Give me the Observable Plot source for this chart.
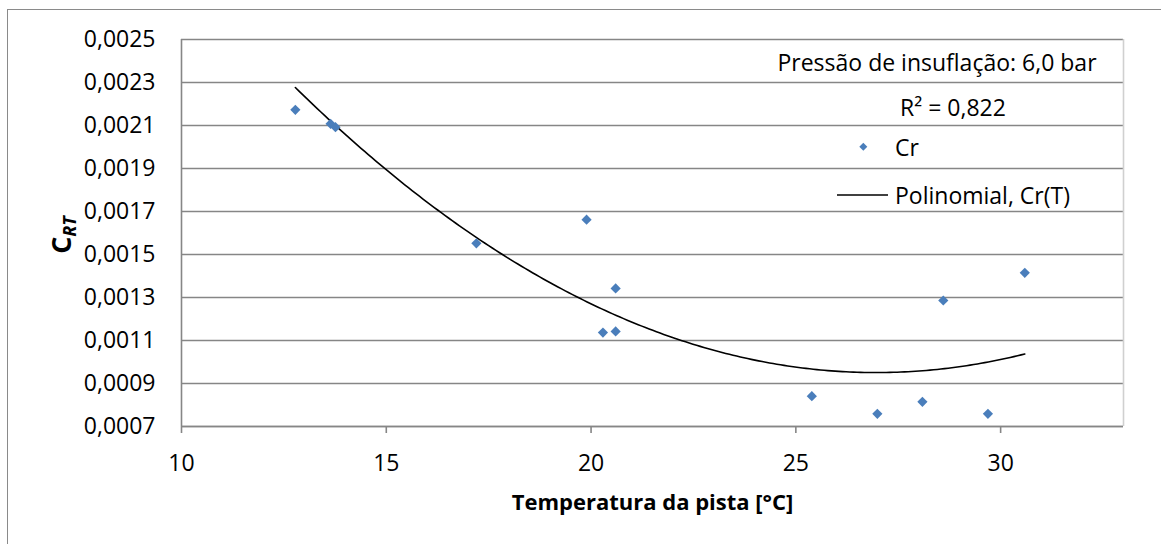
<!DOCTYPE html>
<html>
<head>
<meta charset="utf-8">
<script src="https://cdn.jsdelivr.net/npm/d3@7"></script>
<script src="https://cdn.jsdelivr.net/npm/@observablehq/plot@0.6"></script>
<style>
  html, body { margin: 0; padding: 0; background: #fff; overflow: hidden; }
  #wrap { position: relative; width: 1161px; height: 544px; font-family: "Open Sans", sans-serif; color: #000; }
  #frame { position: absolute; left: 7px; top: 9px; width: 1170px; height: 560px; border-left: 1.5px solid #8a8a8a; border-top: 1.5px solid #8a8a8a; box-sizing: border-box; pointer-events: none; }
  #chart { position: absolute; left: 0; top: 0; }
  .lbl { position: absolute; white-space: nowrap; font-size: 23px; line-height: 1; }
  #ylab { position: absolute; left: 62px; top: 235px; transform: translate(-50%, -50%) rotate(-90deg); font-size: 27px; font-weight: bold; white-space: nowrap; line-height: 1; }
  #ylab sub { font-size: 18px; font-style: italic; vertical-align: -5px; }
</style>
</head>
<body>
<div id="wrap">
  <div id="chart"></div>
  <div id="frame"></div>
  <div id="ylab">C<sub>RT</sub></div>
  <div class="lbl" id="pres" style="left:937px; top:62px; transform:translate(-50%,-50%);"></div>
  <div class="lbl" id="r2" style="left:953px; top:107px; transform:translate(-50%,-50%);"></div>
  <svg style="position:absolute; left:830px; top:135px;" width="70" height="70">
    <path d="M33.3,7.7 L37.3,11.7 L33.3,15.7 L29.3,11.7 Z" fill="#4a7ebb"></path>
    <line x1="7" x2="58" y1="60" y2="60" stroke="#000" stroke-width="1.5"></line>
  </svg>
  <div class="lbl" id="legCr" style="left:895px; top:147px; transform:translate(0,-50%);"></div>
  <div class="lbl" id="legPoly" style="left:895px; top:195px; transform:translate(0,-50%);"></div>
</div>
<script>
// Data
const temperature = [12.78, 13.64, 13.76, 17.2, 19.89, 20.29, 20.6, 20.6, 25.39, 26.99, 28.09, 28.6, 29.69, 30.59];
const crValues    = [0.002173, 0.002108, 0.002092, 0.001552, 0.001662, 0.001137, 0.001142, 0.001342, 0.000841, 0.000759, 0.000815, 0.001286, 0.000759, 0.001415];
// Order-2 polynomial trendline coefficients (c0 + c1*T + c2*T^2)
const trendCoef = [0.0057413, -0.0003553, 0.000006588];
const yTicks = [0.0007, 0.0009, 0.0011, 0.0013, 0.0015, 0.0017, 0.0019, 0.0021, 0.0023, 0.0025];
const xTicks = [10, 15, 20, 25, 30];
const xDomain = [10, 33];
const yDomain = [0.0007, 0.0025];
const seriesName = "Cr";
const trendName = "Polinomial, Cr(T)";
const annotation = "Pressão de insuflação: 6,0 bar";
const r2Text = "R² = 0,822";
const xTitle = "Temperatura da pista [°C]";

document.getElementById("pres").textContent = annotation;
document.getElementById("r2").textContent = r2Text;
document.getElementById("legCr").textContent = seriesName;
document.getElementById("legPoly").textContent = trendName;

const points = temperature.map((t, i) => ({t, cr: crValues[i]}));

const tMin = d3.min(temperature), tMax = d3.max(temperature);
const [c0, c1, c2] = trendCoef;
const trendFn = t => c0 + c1 * t + c2 * t * t;
// the trendline is drawn over the data's temperature range
const trendT = d3.range(0, 201).map(i => tMin + (tMax - tMin) * i / 200);

const fmt = d => d.toFixed(4).replace(".", ",");

const chart = Plot.plot({
  width: 1161,
  height: 544,
  marginLeft: 181,
  marginRight: 38,
  marginTop: 39,
  marginBottom: 118,
  style: { fontFamily: "Open Sans, sans-serif", fontSize: "22px", color: "#000", background: "transparent" },
  x: { domain: xDomain, ticks: xTicks, label: null },
  y: { domain: yDomain, ticks: yTicks, label: null },
  marks: [
    Plot.gridY(yTicks, { stroke: "#868686", strokeOpacity: 1, strokeWidth: 1.6 }),
    Plot.ruleX([xDomain[1]], { stroke: "#d0d0d0", strokeWidth: 1.6 }),
    Plot.ruleX([xDomain[0]], { stroke: "#868686", strokeWidth: 1.6 }),
    Plot.ruleY([yDomain[0]], { stroke: "#868686", strokeWidth: 1.6 }),
    Plot.axisX(xTicks, { tickSize: 7, tickPadding: 21, stroke: "#868686", strokeWidth: 1.6, fill: "#000", fontSize: 23, label: null }),
    Plot.axisX({ anchor: "bottom", ticks: [], label: xTitle, labelAnchor: "center", labelArrow: "none", labelOffset: 83, fontSize: 22, fontWeight: "bold" }),
    Plot.axisY(yTicks, { tickSize: 0, tickPadding: 26, tickFormat: fmt, fill: "#000", fontSize: 23, label: null, style: "letter-spacing:0.7px" }),
    Plot.line(trendT, { x: d => d, y: d => trendFn(d), stroke: "#000", strokeWidth: 1.6 }),
    Plot.dot(points, { x: "t", y: "cr", symbol: "diamond2", r: 4.6, fill: "#4a7ebb", stroke: "none" })
  ]
});
document.getElementById("chart").appendChild(chart);
</script>
</body>
</html>
